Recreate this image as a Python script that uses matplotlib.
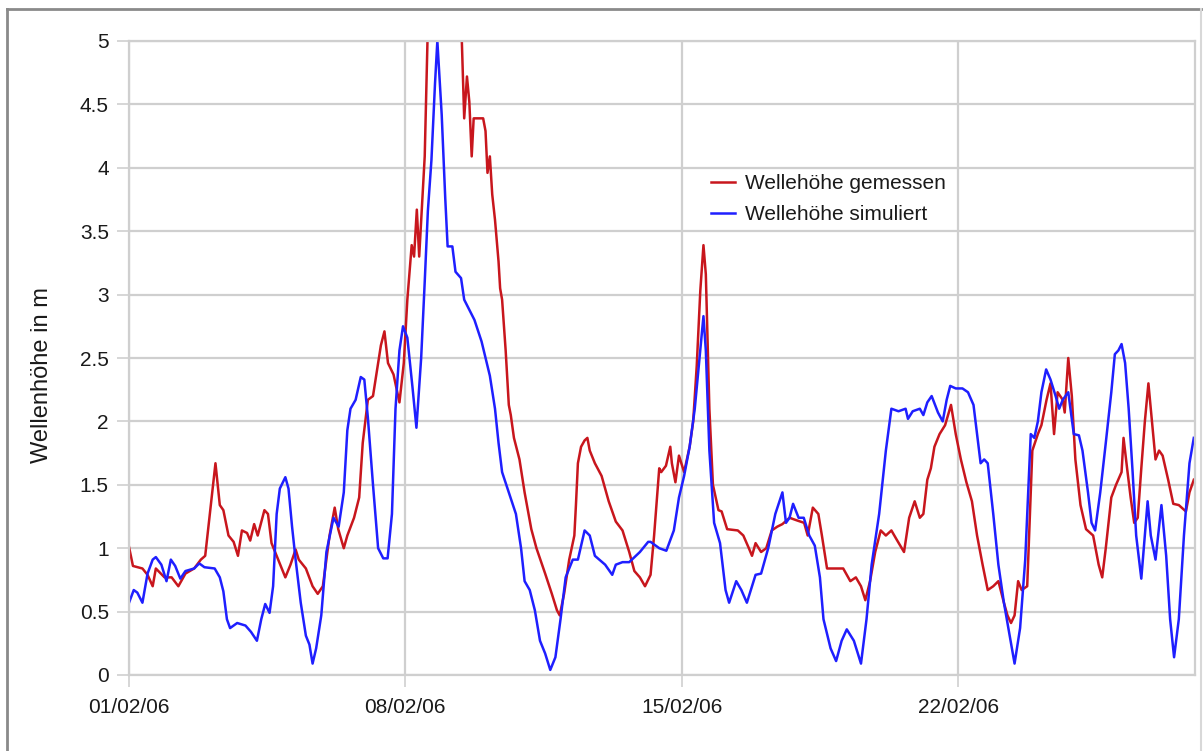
import matplotlib
matplotlib.use('Agg')
import matplotlib.pyplot as plt
from matplotlib.lines import Line2D

# time in days after 01/02/06 00:00, wave height in m
gemessen_tage = [0.0, 0.1, 0.34, 0.47, 0.6, 0.68, 0.9, 1.08, 1.25, 1.43, 1.65, 1.82, 1.93,
                 2.19, 2.30, 2.39, 2.52, 2.65, 2.76, 2.86, 2.99, 3.07, 3.17, 3.26, 3.43, 3.52,
                 3.61, 3.74, 3.96, 4.09, 4.22, 4.30, 4.48, 4.65, 4.78, 4.91, 5.0, 5.08, 5.21,
                 5.30, 5.44, 5.53, 5.70, 5.83, 5.92, 6.05, 6.18, 6.31, 6.38, 6.47, 6.56, 6.70,
                 6.85, 6.96, 7.05, 7.16, 7.22, 7.29, 7.35, 7.49, 7.56, 7.75, 8.0, 8.25, 8.43,
                 8.49, 8.56, 8.62, 8.68, 8.73, 8.97, 9.03, 9.08, 9.14, 9.20, 9.27, 9.36, 9.40,
                 9.45, 9.54, 9.62, 9.67, 9.75, 9.89, 10.02, 10.19, 10.32, 10.54, 10.71, 10.84,
                 10.91, 11.02, 11.15, 11.28, 11.32, 11.37, 11.45, 11.54, 11.61, 11.67, 11.80,
                 11.97, 12.15, 12.33, 12.50, 12.67, 12.80, 12.94, 13.07, 13.21, 13.30, 13.43,
                 13.48, 13.60, 13.71, 13.75, 13.84, 13.93, 14.06, 14.20, 14.29, 14.38, 14.47,
                 14.55, 14.61, 14.70, 14.79, 14.93, 15.01, 15.15, 15.42, 15.56, 15.70, 15.78,
                 15.87, 16.01, 16.14, 16.28, 16.42, 16.55, 16.73, 16.91, 17.10, 17.19, 17.32,
                 17.46, 17.55, 17.68, 17.77, 18.09, 18.27, 18.41, 18.54, 18.65, 18.77, 18.90,
                 19.04, 19.17, 19.31, 19.44, 19.63, 19.76, 19.90, 20.03, 20.12, 20.22, 20.31,
                 20.40, 20.53, 20.67, 20.82, 20.94, 21.07, 21.21, 21.35, 21.48, 21.62, 21.75,
                 21.89, 22.02, 22.16, 22.25, 22.34, 22.43, 22.52, 22.61, 22.75, 22.88, 23.02,
                 23.11, 23.24, 23.34, 23.43, 23.52, 23.65, 23.70, 23.79, 23.88, 23.97, 24.10,
                 24.24, 24.42, 24.56, 24.65, 24.74, 24.88, 25.00, 25.14, 25.19, 25.28, 25.37,
                 25.46, 25.55, 25.64, 25.73, 25.82, 25.91, 26.00, 26.09, 26.18, 26.32, 26.45,
                 26.59, 26.77, 26.86, 26.97]
gemessen_m = [1.01, 0.86, 0.84, 0.79, 0.70, 0.84, 0.77, 0.77, 0.70, 0.80, 0.84, 0.91, 0.94,
              1.67, 1.34, 1.30, 1.10, 1.05, 0.94, 1.14, 1.12, 1.06, 1.19, 1.10, 1.30, 1.27,
              1.04, 0.94, 0.77, 0.87, 0.99, 0.91, 0.84, 0.70, 0.64, 0.70, 0.91, 1.10, 1.32,
              1.15, 1.00, 1.10, 1.24, 1.40, 1.83, 2.17, 2.20, 2.46, 2.60, 2.71, 2.46, 2.37,
              2.15, 2.46, 2.96, 3.39, 3.30, 3.67, 3.30, 4.09, 5.00, 5.90, 6.30, 5.80, 5.00,
              4.39, 4.72, 4.52, 4.09, 4.39, 4.39, 4.29, 3.96, 4.09, 3.79, 3.59, 3.26, 3.05,
              2.96, 2.56, 2.13, 2.05, 1.87, 1.70, 1.44, 1.15, 1.00, 0.80, 0.64, 0.51,
              0.47, 0.64, 0.91, 1.10, 1.34, 1.67, 1.80, 1.85, 1.87, 1.77, 1.67,
              1.57, 1.37, 1.21, 1.14, 0.97, 0.82, 0.77, 0.70, 0.79, 1.10, 1.63,
              1.60, 1.65, 1.80, 1.67, 1.52, 1.73, 1.60, 1.80, 2.00, 2.44, 3.03,
              3.39, 3.16, 2.10, 1.50, 1.30, 1.29, 1.15, 1.14, 1.10, 1.00, 0.94,
              1.04, 0.97, 1.00, 1.14, 1.17, 1.19, 1.24, 1.22, 1.20, 1.10, 1.32,
              1.27, 1.10, 0.84, 0.84, 0.84, 0.74, 0.77, 0.70, 0.59, 0.74, 0.97,
              1.14, 1.10, 1.14, 1.07, 0.97, 1.24, 1.37, 1.24, 1.27, 1.54, 1.63,
              1.80, 1.90, 1.97, 2.13, 1.90, 1.70, 1.52, 1.37, 1.10, 0.87, 0.67,
              0.70, 0.74, 0.57, 0.47, 0.41, 0.47, 0.74, 0.67, 0.70, 1.77, 1.90,
              1.97, 2.17, 2.30, 1.90, 2.23, 2.17, 2.07, 2.50, 2.20, 1.70, 1.34,
              1.15, 1.10, 0.87, 0.77, 1.00, 1.40, 1.50, 1.60, 1.87, 1.63, 1.40,
              1.20, 1.24, 1.63, 2.00, 2.30, 2.00, 1.70, 1.77, 1.73, 1.54, 1.35,
              1.34, 1.29, 1.44, 1.54]

simuliert_tage = [0.0, 0.12, 0.21, 0.34, 0.47, 0.60, 0.68, 0.82, 0.95, 1.06, 1.17, 1.30, 1.43,
                  1.65, 1.78, 1.91, 2.17, 2.30, 2.39, 2.48, 2.56, 2.74, 2.95, 3.09, 3.24, 3.35,
                  3.45, 3.56, 3.65, 3.74, 3.82, 3.96, 4.04, 4.13, 4.22, 4.35, 4.48, 4.57, 4.65,
                  4.74, 4.87, 5.0, 5.18, 5.31, 5.44, 5.53, 5.61, 5.74, 5.87, 5.96, 6.05, 6.18,
                  6.31, 6.44, 6.55, 6.66, 6.75, 6.85, 6.94, 7.05, 7.18, 7.28, 7.40, 7.49, 7.57,
                  7.66, 7.75, 7.81, 7.92, 8.01, 8.07, 8.19, 8.27, 8.41, 8.49, 8.62, 8.75, 8.93,
                  9.14, 9.27, 9.36, 9.45, 9.62, 9.80, 9.93, 10.02, 10.15, 10.28, 10.41, 10.54,
                  10.67, 10.80, 10.93, 11.06, 11.24, 11.37, 11.54, 11.67, 11.80, 12.06, 12.24,
                  12.33, 12.50, 12.67, 12.94, 13.15, 13.21, 13.43, 13.61, 13.80, 13.93, 14.06,
                  14.20, 14.33, 14.47, 14.55, 14.61, 14.70, 14.82, 14.97, 15.11, 15.20, 15.38,
                  15.51, 15.65, 15.87, 16.01, 16.19, 16.37, 16.55, 16.64, 16.73, 16.82, 16.96,
                  17.09, 17.23, 17.37, 17.50, 17.59, 17.77, 17.91, 18.05, 18.18, 18.36, 18.54,
                  18.68, 18.81, 19.0, 19.17, 19.31, 19.49, 19.67, 19.73, 19.85, 20.03, 20.12,
                  20.22, 20.33, 20.49, 20.61, 20.71, 20.80, 20.94, 21.11, 21.25, 21.39, 21.48,
                  21.57, 21.66, 21.75, 21.89, 22.02, 22.16, 22.29, 22.43, 22.57, 22.70, 22.84,
                  22.93, 23.02, 23.11, 23.23, 23.34, 23.47, 23.56, 23.65, 23.79, 23.93, 24.06,
                  24.15, 24.29, 24.38, 24.47, 24.60, 24.74, 24.88, 24.97, 25.06, 25.14, 25.23,
                  25.32, 25.42, 25.51, 25.64, 25.73, 25.80, 25.88, 26.00, 26.09, 26.15, 26.27,
                  26.37, 26.47, 26.59, 26.72, 26.86, 26.97]
simuliert_m = [0.57, 0.67, 0.65, 0.57, 0.80, 0.91, 0.93, 0.87, 0.74, 0.91, 0.86, 0.76, 0.82,
               0.84, 0.88, 0.85, 0.84, 0.77, 0.66, 0.44, 0.37, 0.41, 0.39, 0.34, 0.27, 0.44,
               0.56, 0.49, 0.70, 1.27, 1.47, 1.56, 1.47, 1.17, 0.91, 0.57, 0.31, 0.24, 0.09,
               0.21, 0.47, 0.97, 1.24, 1.17, 1.44, 1.93, 2.10, 2.17, 2.35, 2.33, 2.03, 1.50,
               1.00, 0.92, 0.92, 1.27, 2.10, 2.56, 2.75, 2.66, 2.27, 1.95, 2.50, 3.10, 3.66,
               4.06, 4.66, 5.00, 4.42, 3.76, 3.38, 3.38, 3.18, 3.13, 2.96, 2.88, 2.80, 2.63,
               2.36, 2.10, 1.83, 1.60, 1.44, 1.27, 1.00, 0.74, 0.67, 0.51, 0.27, 0.17,
               0.04, 0.14, 0.44, 0.77, 0.91, 0.91, 1.14, 1.10, 0.94, 0.87, 0.79,
               0.87, 0.89, 0.89, 0.97, 1.05, 1.05, 1.00, 0.98, 1.14, 1.40, 1.57,
               1.80, 2.10, 2.56, 2.83, 2.56, 1.77, 1.20, 1.04, 0.67, 0.57, 0.74,
               0.67, 0.57, 0.79, 0.80, 1.00, 1.27, 1.44, 1.20, 1.24, 1.35, 1.24,
               1.24, 1.10, 1.02, 0.77, 0.44, 0.21, 0.11, 0.27, 0.36, 0.27, 0.09,
               0.44, 0.87, 1.27, 1.77, 2.10, 2.08, 2.10, 2.02, 2.08, 2.10, 2.05,
               2.15, 2.20, 2.07, 2.00, 2.17, 2.28, 2.26, 2.26, 2.23, 2.13, 1.90,
               1.67, 1.70, 1.67, 1.27, 0.87, 0.57, 0.34, 0.09, 0.37, 0.91, 1.90,
               1.87, 2.00, 2.23, 2.41, 2.33, 2.20, 2.10, 2.17, 2.23, 1.90, 1.89,
               1.77, 1.44, 1.20, 1.14, 1.44, 1.83, 2.23, 2.53, 2.56, 2.61, 2.46,
               2.10, 1.60, 1.10, 0.76, 1.10, 1.37, 1.10, 0.91, 1.17, 1.34, 0.94,
               0.44, 0.14, 0.44, 1.10, 1.67, 1.87]

datum_ticks = [0, 7, 14, 21]
datum_labels = ['01/02/06', '08/02/06', '15/02/06', '22/02/06']
y_ticks = [0, 0.5, 1, 1.5, 2, 2.5, 3, 3.5, 4, 4.5, 5]

plt.rcParams['font.family'] = ['Liberation Sans', 'DejaVu Sans']

fig = plt.figure(figsize=(12.03, 7.51), dpi=100)
ax = fig.add_axes([129/1203, 1 - 675/751, (1195 - 129)/1203, (675 - 41)/751])

rot = '#c8161d'
blau = '#1f1fff'
ax.plot(gemessen_tage, gemessen_m, color=rot, lw=1.8, label='Wellehöhe gemessen')
ax.plot(simuliert_tage, simuliert_m, color=blau, lw=1.8, label='Wellehöhe simuliert')

ax.set_xlim(0, 27)
ax.set_ylim(0, 5)
ax.set_xticks(datum_ticks)
ax.set_xticklabels(datum_labels)
ax.set_yticks(y_ticks)
ax.set_yticklabels(['%g' % v for v in y_ticks])

grau = '#cfcfcf'
ax.grid(True, color=grau, lw=1.6)
ax.set_axisbelow(True)
for s in ax.spines.values():
    s.set_color(grau)
    s.set_linewidth(1.6)
ax.tick_params(axis='both', length=8.5, width=1.2, color=grau, labelsize=15,
               labelcolor='#1a1a1a')
ax.tick_params(axis='x', pad=8)
ax.tick_params(axis='y', pad=6)

fig.text(42/1203, 1 - 375/751, 'Wellenhöhe in m', rotation=90, fontsize=17,
         ha='center', va='center', color='#1a1a1a')

leg = ax.legend(loc='upper left', bbox_to_anchor=((711 - 129)/1066, (675 - 174)/634),
                frameon=False, fontsize=15, handlelength=1.15, handletextpad=0.5,
                labelspacing=0.6, borderpad=0, borderaxespad=0)
for t in leg.get_texts():
    t.set_color('#1a1a1a')

# outer chart frame
fig.add_artist(Line2D([7/1203, 7/1203], [0, 1 - 9/751], color='#8a8a8a', lw=2))
fig.add_artist(Line2D([7/1203, 1201/1203], [1 - 9/751, 1 - 9/751], color='#8a8a8a', lw=2))
fig.add_artist(Line2D([1201/1203, 1201/1203], [0, 1 - 9/751], color='#d8d8d8', lw=1.5))

fig.savefig('out.png', dpi=100)
